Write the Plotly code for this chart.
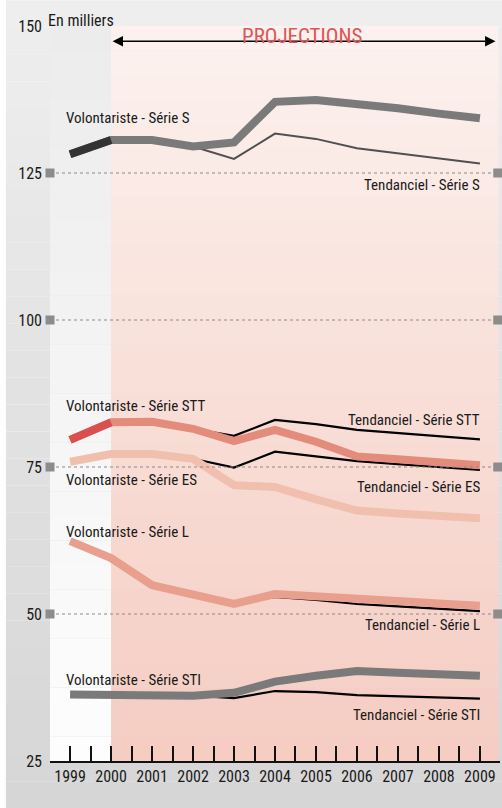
import plotly.graph_objects as go

years = [1999, 2000, 2001, 2002, 2003, 2004, 2005, 2006, 2007, 2008, 2009]

vol_S   = [128.2, 130.6, 130.6, 129.5, 130.2, 137.1, 137.4, 136.8, 136.0, 135.1, 134.3]
tend_S  = [None, None, None, 129.5, 127.4, 131.7, 130.8, 129.2, 128.3, 127.5, 126.6]
vol_STT = [79.6, 82.6, 82.7, 81.5, 79.4, 81.3, 79.3, 76.8, 76.3, 75.8, 75.3]
tend_STT= [None, None, None, 81.5, 80.3, 83.0, 82.3, 81.3, 80.8, 80.2, 79.7]
vol_ES  = [75.9, 77.2, 77.2, 76.4, 71.9, 71.6, 69.5, 67.6, 67.1, 66.7, 66.3]
tend_ES = [None, None, None, 76.4, 74.9, 77.6, 76.8, 76.0, 75.5, 75.0, 74.5]
vol_L   = [62.4, 59.5, 54.9, 53.2, 51.7, 53.4, 53.1, 52.6, 52.2, 51.8, 51.4]
tend_L  = [None, None, None, None, 51.7, 52.9, 52.4, 51.7, 51.3, 50.9, 50.5]
vol_STI = [36.3, 36.3, 36.3, 36.1, 36.6, 38.5, 39.5, 40.3, 40.0, 39.8, 39.5]
tend_STI= [None, None, None, 36.1, 35.7, 36.9, 36.7, 36.2, 36.0, 35.8, 35.6]

y_ticks = [25, 50, 75, 100, 125, 150]
grid_vals = [50, 75, 100, 125]
x_ticks = [1999 + 0.5 * i for i in range(21)]
x_labels = [str(int(v)) if v == int(v) else "" for v in x_ticks]

FONT = "Liberation Sans Narrow, Arial Narrow, Roboto Condensed, Liberation Sans, sans-serif"

fig = go.Figure()

shapes = []

# outer (paper) gradient background
n = 30
ptop = (238, 238, 238)
pbot = (214, 214, 214)
py_top, py_bot = 1.035, -0.065
for i in range(n):
    t = i / (n - 1)
    c = tuple(int(round(ptop[k] + (pbot[k] - ptop[k]) * t)) for k in range(3))
    y1 = py_top - (py_top - py_bot) / n * i
    y0 = py_top - (py_top - py_bot) / n * (i + 1)
    shapes.append(dict(type="rect", xref="paper", yref="paper", x0=-0.098, x1=1.01,
                       y0=y0, y1=y1, fillcolor="rgb(%d,%d,%d)" % c,
                       line=dict(width=0), layer="below"))

top = (252, 241, 238)
bot = (245, 205, 194)
for i in range(n):
    t = i / (n - 1)
    c = tuple(int(round(top[k] + (bot[k] - top[k]) * t)) for k in range(3))
    y1 = 150 - (125 / n) * i
    y0 = 150 - (125 / n) * (i + 1)
    shapes.append(dict(type="rect", xref="x", yref="y", x0=2000, x1=2009.45,
                       y0=y0, y1=y1, fillcolor="rgb(%d,%d,%d)" % c,
                       line=dict(width=0), layer="below"))
ltop = (236, 236, 236)
lbot = (253, 253, 253)
for i in range(n):
    t = i / (n - 1)
    c = tuple(int(round(ltop[k] + (lbot[k] - ltop[k]) * t)) for k in range(3))
    y1 = 150 - (125 / n) * i
    y0 = 150 - (125 / n) * (i + 1)
    shapes.append(dict(type="rect", xref="x", yref="y", x0=1998.5, x1=2000,
                       y0=y0, y1=y1, fillcolor="rgb(%d,%d,%d)" % c,
                       line=dict(width=0), layer="below"))

for g in grid_vals:
    shapes.append(dict(type="line", xref="paper", yref="y", x0=0, x1=1, y0=g, y1=g,
                       line=dict(color="#8a8a8a", width=1, dash="dot")))
    for xa in (0, 0.995):
        shapes.append(dict(type="rect", xref="paper", yref="y", xsizemode="pixel",
                           ysizemode="pixel", xanchor=xa, yanchor=g,
                           x0=-4.5, x1=4.5, y0=-4.5, y1=4.5,
                           fillcolor="#8c8c8c", line=dict(width=0)))

def line(y, color, width, x=years):
    fig.add_trace(go.Scatter(x=x, y=y, mode="lines", line=dict(color=color, width=width),
                             hoverinfo="skip", showlegend=False, connectgaps=False))

line(tend_S, "#505050", 2)
line(tend_STT, "#000000", 2.2)
line(tend_ES, "#000000", 2.2)
line(tend_L, "#000000", 2.2)
line(tend_STI, "#000000", 2.2)

line(vol_S, "#7a7a7a", 8)
line(vol_S[:2], "#333333", 8, years[:2])
line(vol_STT, "#e48c7b", 8)
line(vol_STT[:2], "#d9504f", 8, years[:2])
line(vol_ES, "#f1bfae", 8)
line(vol_L, "#e89f8e", 8)
line(vol_STI, "#7a7a7a", 8)

anns = []
lab_font = dict(family=FONT, size=15, color="#1a1a1a")
left_labels = [("Volontariste - Série S", 134.4), ("Volontariste - Série STT", 85.3),
               ("Volontariste - Série ES", 72.8), ("Volontariste - Série L", 63.9),
               ("Volontariste - Série STI", 38.8)]
right_labels = [("Tendanciel - Série S", 123.0), ("Tendanciel - Série STT", 82.95),
                ("Tendanciel - Série ES", 71.6), ("Tendanciel - Série L", 48.1),
                ("Tendanciel - Série STI", 32.9)]
for txt, yv in left_labels:
    anns.append(dict(text=txt, x=1998.86, y=yv, xref="x", yref="y", xanchor="left",
                     yanchor="middle", showarrow=False, font=lab_font))
for txt, yv in right_labels:
    anns.append(dict(text=txt, x=2009.05, y=yv, xref="x", yref="y", xanchor="right",
                     yanchor="middle", showarrow=False, font=lab_font))

anns.append(dict(text="", x=2009.38, y=147.4, ax=2000, ay=147.4, xref="x", yref="y",
                 axref="x", ayref="y", showarrow=True, arrowside="end+start",
                 arrowhead=2, arrowsize=1.3, arrowwidth=1.6, arrowcolor="#000000"))
anns.append(dict(text="PROJECTIONS", x=2004.66, y=148.3, xref="x", yref="y",
                 xanchor="center", yanchor="middle", showarrow=False,
                 font=dict(family=FONT, size=21, color="#dd5555")))
anns.append(dict(text="En milliers", x=0.0, y=1.0, xref="paper", yref="paper",
                 xanchor="left", yanchor="bottom", yshift=-6, xshift=-4,
                 showarrow=False, font=dict(family=FONT, size=16, color="#1a1a1a")))

fig.update_layout(
    width=502, height=808,
    margin=dict(l=50, r=2, t=25.5, b=47.3, autoexpand=False),
    paper_bgcolor="#ffffff",
    plot_bgcolor="rgba(0,0,0,0)",
    shapes=shapes,
    annotations=anns,
    showlegend=False,
    xaxis=dict(range=[1998.51, 2009.49], tickvals=x_ticks, ticktext=x_labels,
               ticks="inside", ticklen=15, tickwidth=1.5, tickcolor="#111111",
               showline=True, linecolor="#111111", linewidth=1.5, showgrid=False,
               zeroline=False, automargin=False,
               tickfont=dict(family=FONT, size=16, color="#1a1a1a")),
    yaxis=dict(range=[25, 150], tickvals=y_ticks, showgrid=False, zeroline=False,
               showline=False, ticks="", ticklabelstandoff=7, automargin=False,
               tickfont=dict(family=FONT, size=16, color="#1a1a1a")),
)

fig.write_html("out.html", config={"displayModeBar": False},
               post_script="document.body.style.margin='0';document.body.style.padding='0';")
